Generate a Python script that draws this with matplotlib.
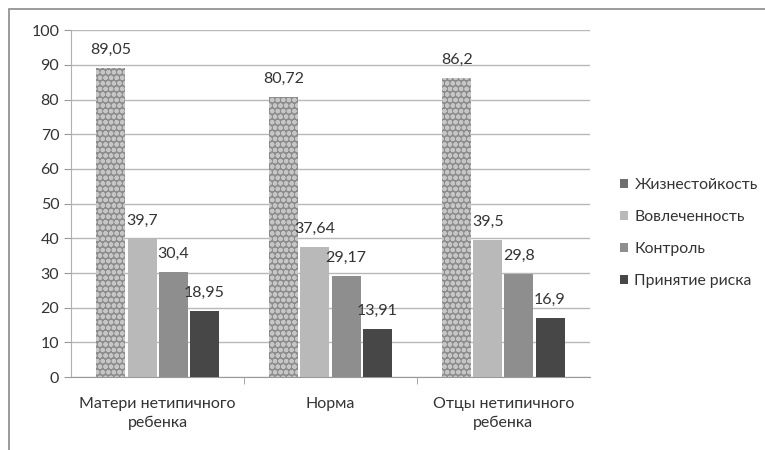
import numpy as np
import matplotlib.pyplot as plt
from matplotlib.patches import Rectangle, Patch

plt.rcParams['font.family'] = ['Lato', 'DejaVu Sans']
plt.rcParams['hatch.linewidth'] = 1.5

# Данные
categories = ['Матери нетипичного\nребенка', 'Норма', 'Отцы нетипичного\nребенка']
series_names = ['Жизнестойкость', 'Вовлеченность', 'Контроль', 'Принятие риска']
hardiness = [89.05, 80.72, 86.2]
commitment = [39.7, 37.64, 39.5]
control = [30.4, 29.17, 29.8]
risk = [18.95, 13.91, 16.9]
y_ticks = [0, 10, 20, 30, 40, 50, 60, 70, 80, 90, 100]

series = [hardiness, commitment, control, risk]
colors = ['#8c8c8c', '#b9b9b9', '#8e8e8e', '#474747']
legend_colors = ['#6e6e6e', '#b9b9b9', '#8e8e8e', '#474747']

fig = plt.figure(figsize=(7.65, 4.5), dpi=100)
ax = fig.add_axes([0.093, 0.162, 0.678, 0.771])

# рамка вокруг диаграммы
fig.patches.append(Rectangle((9 / 765, -0.1), 1.2, 1.1 - 9 / 450,
                             transform=fig.transFigure, fill=False,
                             edgecolor='#8a8a8a', linewidth=1.2))

x = np.arange(len(categories))
step = 0.18
width = 0.168
offsets = (np.arange(4) - 1.5) * step

for i, (vals, name) in enumerate(zip(series, series_names)):
    if i == 0:
        bars = ax.bar(x + offsets[i], vals, width, color=colors[i], hatch='ooo',
                      edgecolor='#c6c6c6', linewidth=0, zorder=3)
    else:
        bars = ax.bar(x + offsets[i], vals, width, color=colors[i],
                      linewidth=0, zorder=3)
    for b, v in zip(bars, vals):
        ax.annotate(f'{v:g}'.replace('.', ','), (b.get_x() + b.get_width() / 2, v),
                    xytext=(0, 8), textcoords='offset points', ha='center',
                    va='bottom', fontsize=11.5, color='#333333', zorder=4)

ax.set_xlim(-0.5, 2.5)
ax.set_ylim(0, 100)
ax.set_yticks(y_ticks)
ax.tick_params(axis='y', labelsize=11.5, colors='#333333', length=5, color='#999999')
ax.set_xticks(x)
ax.set_xticklabels(categories, fontsize=11.5, color='#333333', linespacing=1.45)
ax.tick_params(axis='x', length=0, pad=14)
ax.set_xticks([0.5, 1.5], minor=True)
ax.tick_params(axis='x', which='minor', length=5, color='#999999')

ax.grid(axis='y', color='#b8b8b8', linewidth=1, zorder=0)
for s in ['top', 'right']:
    ax.spines[s].set_visible(False)
ax.spines['left'].set_color('#b0b0b0')
ax.spines['bottom'].set_color('#999999')

handles = [Patch(facecolor=c, label=n) for c, n in zip(legend_colors, series_names)]
leg = ax.legend(handles=handles, loc='center left', bbox_to_anchor=(1.03, 0.415),
                frameon=False, fontsize=11.3, handlelength=0.55, handleheight=0.55,
                handletextpad=0.4, labelspacing=1.15)
for t in leg.get_texts():
    t.set_color('#333333')

plt.savefig('out.png', dpi=100)
